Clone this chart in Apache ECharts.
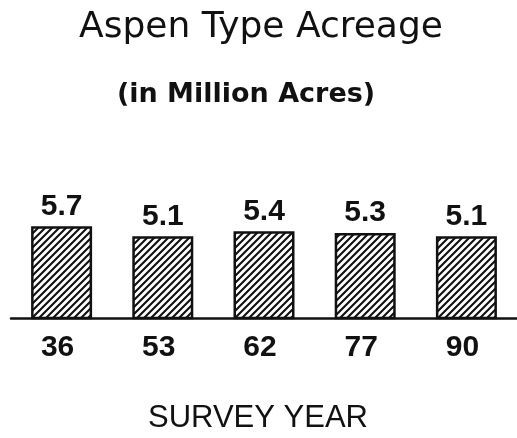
<!DOCTYPE html>
<html>
<head>
<meta charset="utf-8">
<script src="https://cdn.jsdelivr.net/npm/echarts@6/dist/echarts.min.js"></script>
<style>
html,body{margin:0;padding:0;background:#fff;}
#chart{width:517px;height:438px;}
</style>
</head>
<body>
<div id="chart"></div>
<script>
var categories = ['36', '53', '62', '77', '90'];
var acreage = [5.7, 5.1, 5.4, 5.3, 5.1];
var titleText = 'Aspen Type Acreage';
var subtitleText = '(in Million Acres)';
var axisName = 'SURVEY YEAR';

function makeHatch() {
  var s = 7;
  var c = document.createElement('canvas');
  c.width = s; c.height = s;
  var ctx = c.getContext('2d');
  ctx.fillStyle = '#fff';
  ctx.fillRect(0, 0, s, s);
  ctx.strokeStyle = '#111';
  ctx.lineWidth = 2.1;
  ctx.beginPath();
  ctx.moveTo(-1, s + 1); ctx.lineTo(s + 1, -1);
  ctx.moveTo(-2, 2); ctx.lineTo(2, -2);
  ctx.moveTo(s - 2, s + 2); ctx.lineTo(s + 2, s - 2);
  ctx.stroke();
  return c;
}

var chart = echarts.init(document.getElementById('chart'), null, {renderer: 'canvas'});
chart.setOption({
  backgroundColor: '#fff',
  animation: false,
  title: [
    {
      text: titleText, left: 256, top: 5, textAlign: 'center',
      textStyle: {fontFamily: 'DejaVu Sans', fontSize: 36, fontWeight: 'normal', color: '#111'}
    },
    {
      text: subtitleText, left: 241, top: 76, textAlign: 'center',
      textStyle: {fontFamily: 'DejaVu Sans', fontSize: 27, fontWeight: 'bold', color: '#111'}
    }
  ],
  grid: {left: 11, top: 218, width: 508, bottom: 120, containLabel: false},
  xAxis: {
    type: 'category',
    data: categories,
    name: axisName,
    nameLocation: 'middle',
    nameGap: 85,
    nameTextStyle: {fontFamily: 'Liberation Sans', fontSize: 31, fontWeight: 'normal', color: '#111', padding: [0, 12, 0, 0]},
    axisLine: {show: true, lineStyle: {color: '#111', width: 2.5}},
    axisTick: {show: false},
    axisLabel: {fontFamily: 'Liberation Sans', fontSize: 30, fontWeight: 'bold', color: '#111', margin: 15, padding: [0, 8, 0, 0]},
    splitLine: {show: false}
  },
  yAxis: {
    type: 'value', min: 0.2, max: 6.2, show: false,
    splitLine: {show: false}
  },
  series: [{
    type: 'bar',
    data: acreage,
    barWidth: 61,
    itemStyle: {
      color: {image: makeHatch(), repeat: 'repeat'},
      borderColor: '#111',
      borderWidth: 2.5
    },
    label: {
      show: true, position: 'top', distance: 5,
      fontFamily: 'Liberation Sans', fontSize: 30, fontWeight: 'bold', color: '#111'
    }
  }]
});
</script>
</body>
</html>
